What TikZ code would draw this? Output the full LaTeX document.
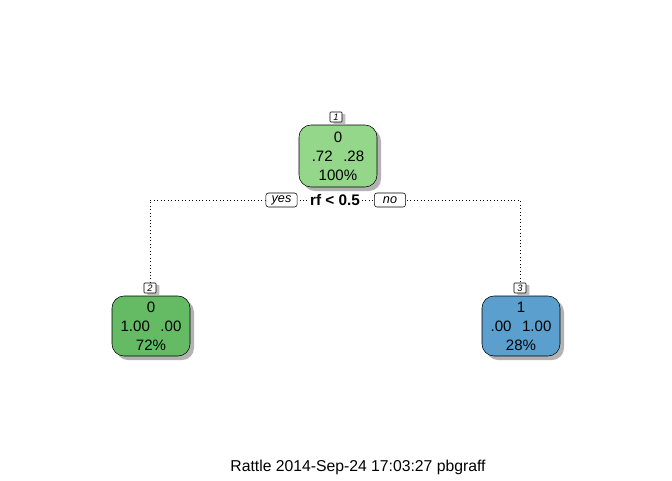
\documentclass[tikz,border=0pt]{standalone}
\usepackage{fontspec}
\setmainfont{Liberation Sans}
\usetikzlibrary{shadows,backgrounds}
\definecolor{rootgreen}{RGB}{148,214,138}
\definecolor{leafgreen}{RGB}{100,187,100}
\definecolor{leafblue}{RGB}{90,159,205}

\begin{document}
\begin{tikzpicture}[x=0.75pt, y=-0.75pt,
    leaf/.style={draw=black, rounded corners=9pt, minimum width=58.5pt, minimum height=45pt,
      align=center, font=\fontsize{11.3}{14.2}\selectfont, inner sep=1pt,
      drop shadow={shadow xshift=3pt, shadow yshift=-3pt, fill=black!30, opacity=1}},
    numtag/.style={draw=black, fill=white, rounded corners=0.5pt, inner sep=0pt,
      minimum width=9pt, minimum height=7.5pt, font=\fontsize{7}{7}\selectfont\itshape,
      drop shadow={shadow xshift=2.5pt, shadow yshift=-1.5pt, fill=black!25, opacity=1}},
    answer/.style={draw=black, fill=white, rounded corners=2pt, inner sep=1.5pt,
      minimum width=23.5pt, minimum height=10.5pt, font=\fontsize{9.5}{10}\selectfont\itshape},
    split/.style={dotted, line width=0.6pt}]
  \useasboundingbox (0,0) rectangle (672,480);
  % root node
  \node[leaf, fill=rootgreen, minimum height=46.5pt] (n1) at (338,156) {0\\.72\hspace{0.7em}.28\\100\%};
  \node[numtag] (t1) at (336,117) {1};
  % split label
  \node[font=\fontsize{11.5}{12}\selectfont\bfseries, fill=white, inner sep=1pt] (rule) at (335,200) {rf < 0.5};
  \node[answer] (yes) at (281.5,200) {yes};
  \node[answer] (no) at (390,200) {no};
  % leaves
  \node[leaf, fill=leafgreen] (n2) at (151,326) {0\\1.00\hspace{0.7em}.00\\72\%};
  \node[numtag] (t2) at (150,288) {2};
  \node[leaf, fill=leafblue] (n3) at (521,326) {1\\.00\hspace{0.7em}1.00\\28\%};
  \node[numtag] (t3) at (520,288) {3};
  % branches
  \begin{scope}[on background layer]
    \draw[split] (t2.north) |- (rule.center) -| (t3.north);
  \end{scope}
  % footer
  \node[font=\fontsize{11.8}{13}\selectfont] (foot) at (358,467) {Rattle 2014-Sep-24 17:03:27 pbgraff};
\end{tikzpicture}
\end{document}
